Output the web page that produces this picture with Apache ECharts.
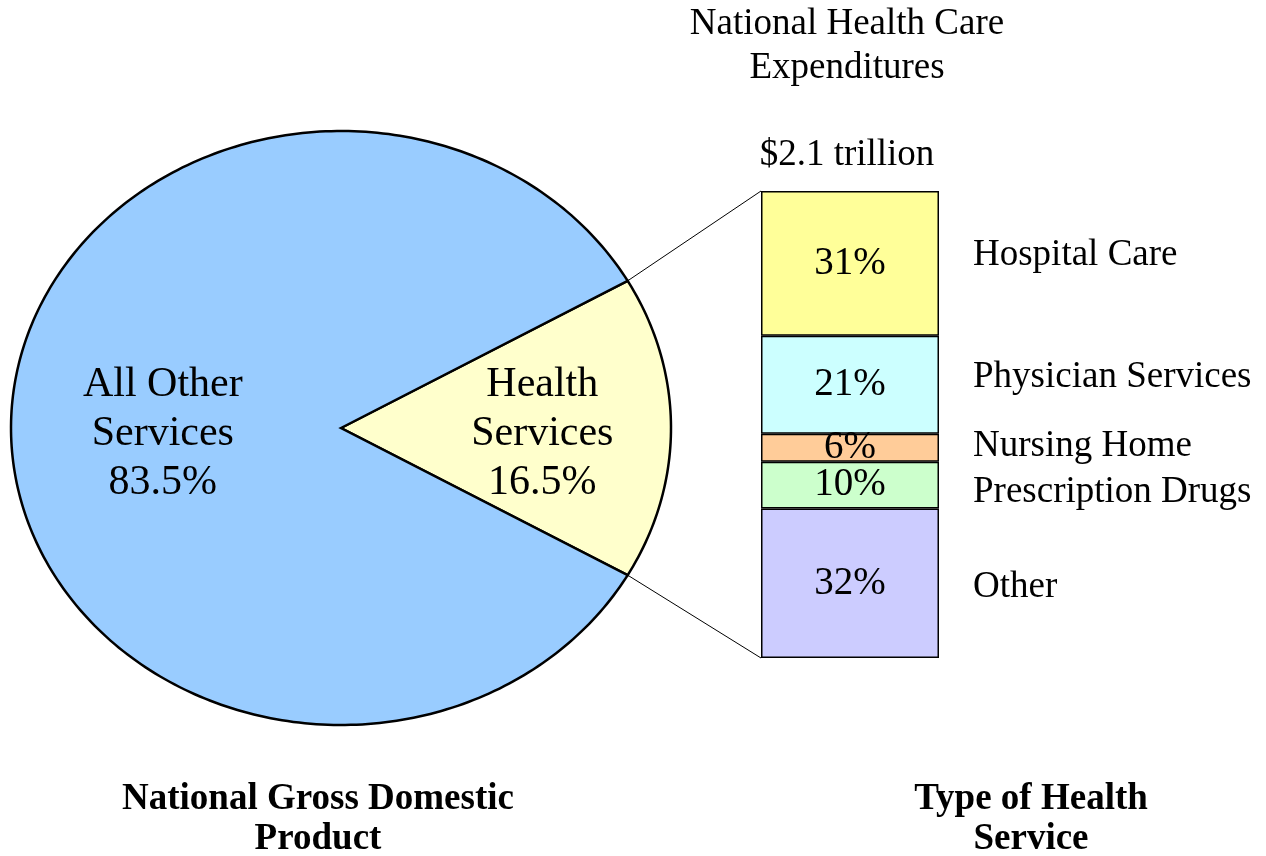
<!DOCTYPE html>
<html>
<head>
    <meta charset="utf-8">
    <script src="https://cdn.jsdelivr.net/npm/echarts@6/dist/echarts.min.js"></script>
    <style>
        * { margin: 0; padding: 0; }
        #main { width: 1266px; height: 856px; background: #fff; }
    </style>
</head>
<body>
    <div id="main"></div>
    <script type="text/javascript">
        // GDP split (pie)
        var gdpNames = ['Health\nServices', 'All Other\nServices'];
        var gdpShares = [16.5, 83.5];
        var gdpColors = ['#FFFFCC', '#99CCFF'];

        // health expenditure split (stacked bar)
        var categories = ['Hospital Care', 'Physician Services', 'Nursing Home', 'Prescription Drugs', 'Other'];
        var shares = [31, 21, 6, 10, 32];
        var barColors = ['#FFFF99', '#CCFFFF', '#FFCC99', '#CCFFCC', '#CCCCFF'];

        // layout
        var PIE = { cx: 341, cy: 428, rx: 330, ry: 297 };
        var BAR = { left: 761, top: 191, width: 178, height: 467 };
        var nameNudge = [-8, -8, -2, 7, 4]; // px shift of the category names
        var SERIF = '"Liberation Serif", "Times New Roman", serif';

        var myChart = echarts.init(document.getElementById('main'), null, { renderer: 'canvas' });

        function ellipsePt(deg) {
            var t = deg * Math.PI / 180;
            return [PIE.cx + PIE.rx * Math.cos(t), PIE.cy - PIE.ry * Math.sin(t)];
        }

        function renderSlice(params, api) {
            var i = params.dataIndex;
            var start = -gdpShares[0] / 2 * 3.6;
            for (var k = 0; k < i; k++) start += gdpShares[k] * 3.6;
            var end = start + api.value(0) * 3.6;
            var pts = [[PIE.cx, PIE.cy]];
            for (var a = start; a < end; a += 1) pts.push(ellipsePt(a));
            pts.push(ellipsePt(end));
            var mid = (start + end) / 2;
            var f = i === 0 ? 0.61 : 0.54; // label distance from centre
            var lp = [PIE.cx + PIE.rx * f * Math.cos(mid * Math.PI / 180),
                      PIE.cy + 6 - PIE.ry * f * Math.sin(mid * Math.PI / 180)];
            var children = [{
                type: 'polygon',
                shape: { points: pts },
                style: { fill: gdpColors[i], stroke: '#000', lineWidth: 2.5 }
            }, {
                type: 'text',
                x: lp[0], y: lp[1],
                style: {
                    text: gdpNames[i] + '\n' + api.value(0) + '%',
                    align: 'center', verticalAlign: 'middle',
                    fontSize: 42, lineHeight: 49, fontFamily: SERIF, fill: '#000'
                }
            }];
            if (i === 0) {
                // connectors from the slice edges to the bar
                var p1 = ellipsePt(start), p2 = ellipsePt(end);
                children.push({
                    type: 'line',
                    shape: { x1: p2[0], y1: p2[1], x2: BAR.left, y2: BAR.top },
                    style: { stroke: '#000', lineWidth: 1 }
                }, {
                    type: 'line',
                    shape: { x1: p1[0], y1: p1[1], x2: BAR.left, y2: BAR.top + BAR.height },
                    style: { stroke: '#000', lineWidth: 1 }
                });
            }
            return { type: 'group', children: children };
        }

        var series = [{
            type: 'custom',
            coordinateSystem: 'none',
            renderItem: renderSlice,
            data: gdpShares,
            silent: true,
            z: 1
        }];

        var cum = 0;
        var namePts = [];
        for (var n = 0; n < shares.length; n++) {
            series.push({
                type: 'bar',
                stack: 'total',
                barWidth: '100%',
                data: [shares[n]],
                itemStyle: { color: barColors[n], borderColor: '#000', borderWidth: 1.5 },
                label: {
                    show: true,
                    position: 'inside',
                    formatter: '{c}%',
                    fontSize: 39,
                    fontFamily: SERIF,
                    color: '#000'
                },
                silent: true,
                z: 2
            });
            namePts.push({
                value: [0, cum + shares[n] / 2],
                name: categories[n],
                label: { position: [123, nameNudge[n]] }
            });
            cum += shares[n];
        }

        series.push({
            type: 'scatter',
            symbolSize: 0,
            data: namePts,
            itemStyle: { opacity: 1 },
            label: {
                show: true,
                align: 'left',
                verticalAlign: 'middle',
                formatter: '{b}',
                fontSize: 37,
                fontFamily: SERIF,
                color: '#000',
                opacity: 1
            },
            silent: true,
            z: 3
        });

        var option = {
            animation: false,
            grid: { left: BAR.left, top: BAR.top, width: BAR.width, height: BAR.height },
            xAxis: { type: 'category', data: ['NHE'], show: false },
            yAxis: { type: 'value', min: 0, max: 100, inverse: true, show: false },
            graphic: [{
                type: 'text', x: 847, y: 46,
                style: {
                    text: 'National Health Care\nExpenditures', align: 'center', verticalAlign: 'middle',
                    fontSize: 37, lineHeight: 44, fontFamily: SERIF, fill: '#000'
                }
            }, {
                type: 'text', x: 847, y: 155,
                style: {
                    text: '$2.1 trillion', align: 'center', verticalAlign: 'middle',
                    fontSize: 37, fontFamily: SERIF, fill: '#000'
                }
            }, {
                type: 'text', x: 318, y: 819,
                style: {
                    text: 'National Gross Domestic\nProduct', align: 'center', verticalAlign: 'middle',
                    fontSize: 37, lineHeight: 40, fontWeight: 'bold', fontFamily: SERIF, fill: '#000'
                }
            }, {
                type: 'text', x: 1031, y: 819,
                style: {
                    text: 'Type of Health\nService', align: 'center', verticalAlign: 'middle',
                    fontSize: 37, lineHeight: 40, fontWeight: 'bold', fontFamily: SERIF, fill: '#000'
                }
            }],
            series: series
        };

        myChart.setOption(option);
    </script>
</body>
</html>
